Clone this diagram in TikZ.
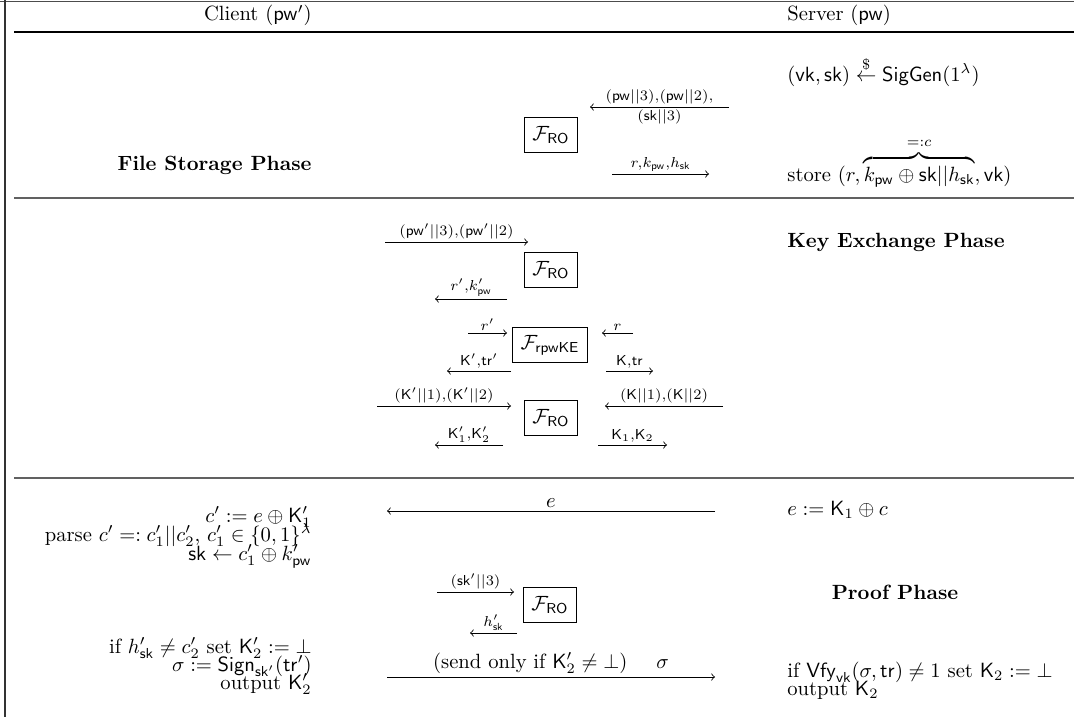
\documentclass[tikz,border=0pt]{standalone}
\usepackage{amsmath,amssymb}
\begin{document}
\begin{tikzpicture}[x=0.4854pt,y=-0.4854pt,
  box/.style={draw,line width=0.45pt,inner xsep=4pt,minimum height=16.8pt},
  msg/.style={-to,line width=0.4pt},
  lab/.style={inner sep=1pt,execute at begin node=$\scriptstyle,execute at end node=$},
  lbl/.style={inner sep=0pt},
  phase/.style={font=\bfseries},
  sep/.style={line width=0.6pt,black!62}]
\useasboundingbox (0,0) rectangle (1074,717);
% frame and rules
\draw[line width=0.4pt,black!70] (0,1) -- (1074,1);
\draw[line width=0.6pt,black!80] (5,0) -- (5,717);
\draw[line width=0.8pt] (14,32) -- (1074,32);
\draw[sep] (14,198) -- (1074,198);
\draw[sep] (14,478) -- (1074,478);
% header
\node[anchor=base east,lbl] (client) at (312,21) {Client ($\mathsf{pw}'$)};
\node[anchor=base west,lbl] (server) at (787,21) {Server ($\mathsf{pw}$)};
% ---------- File storage phase
\node[phase,anchor=east,lbl] (fsp) at (312,165) {File Storage Phase};
\node[anchor=base west,lbl] (siggen) at (787,81) {$(\mathsf{vk},\mathsf{sk}) \stackrel{\$}{\leftarrow} \mathsf{SigGen}(1^\lambda)$};
\node[anchor=base west,lbl] (store) at (787,181) {store $(r, \overbrace{k_{\mathsf{pw}} \oplus \mathsf{sk}||h_{\mathsf{sk}}}^{=:c}, \mathsf{vk})$};
\node[box] (ro1) at (551,135) {$\mathcal{F}_{\mathsf{RO}}$};
\coordinate (a1s) at (729,107); \coordinate (a1e) at (590,107);
\coordinate (a2s) at (612,174); \coordinate (a2e) at (709,174);
\draw[msg] (a1s) -- node[lab,above]{(\mathsf{pw}||3),(\mathsf{pw}||2),} node[lab,below]{(\mathsf{sk}||3)} (a1e);
\draw[msg] (a2s) -- node[lab,above]{r,k_{\mathsf{pw}},h_{\mathsf{sk}}} (a2e);
% ---------- Key exchange phase
\node[phase,anchor=west,lbl] (kep) at (787,242) {Key Exchange Phase};
\node[box] (ro2) at (551,270) {$\mathcal{F}_{\mathsf{RO}}$};
\node[box] (ke) at (550,345) {$\mathcal{F}_{\mathsf{rpwKE}}$};
\node[box] (ro3) at (551,418) {$\mathcal{F}_{\mathsf{RO}}$};
\coordinate (b1s) at (385,242); \coordinate (b1e) at (528,242);
\coordinate (b2s) at (507,299); \coordinate (b2e) at (435,299);
\coordinate (b3s) at (468,333); \coordinate (b3e) at (507,333);
\coordinate (b4s) at (633,333); \coordinate (b4e) at (602,333);
\coordinate (b5s) at (511,371); \coordinate (b5e) at (447,371);
\coordinate (b6s) at (606,371); \coordinate (b6e) at (653,371);
\coordinate (b7s) at (377,406); \coordinate (b7e) at (511,406);
\coordinate (b8s) at (723,406); \coordinate (b8e) at (605,406);
\coordinate (b9s) at (503,445); \coordinate (b9e) at (435,445);
\coordinate (b10s) at (598,445); \coordinate (b10e) at (667,445);
\draw[msg] (b1s) -- node[lab,above]{(\mathsf{pw}'||3),(\mathsf{pw}'||2)} (b1e);
\draw[msg] (b2s) -- node[lab,above]{r',k'_{\mathsf{pw}}} (b2e);
\draw[msg] (b3s) -- node[lab,above]{r'} (b3e);
\draw[msg] (b4s) -- node[lab,above]{r} (b4e);
\draw[msg] (b5s) -- node[lab,above]{\mathsf{K}',\mathsf{tr}'} (b5e);
\draw[msg] (b6s) -- node[lab,above]{\mathsf{K},\mathsf{tr}} (b6e);
\draw[msg] (b7s) -- node[lab,above]{(\mathsf{K}'||1),(\mathsf{K}'||2)} (b7e);
\draw[msg] (b8s) -- node[lab,above]{(\mathsf{K}||1),(\mathsf{K}||2)} (b8e);
\draw[msg] (b9s) -- node[lab,above]{\mathsf{K}'_1,\mathsf{K}'_2} (b9e);
\draw[msg] (b10s) -- node[lab,above]{\mathsf{K}_1,\mathsf{K}_2} (b10e);
% ---------- Proof phase
\node[anchor=base east,lbl] (c1) at (312,522) {$c' := e \oplus \mathsf{K}'_1$};
\node[anchor=base east,lbl] (c2) at (312,541) {parse $c' =: c'_1||c'_2$,\ $c'_1 \in \{0,1\}^\lambda$};
\node[anchor=base east,lbl] (c3) at (312,560) {$\mathsf{sk} \leftarrow c'_1 \oplus k'_{\mathsf{pw}}$};
\node[anchor=base east,lbl] (c4) at (312,653) {if $h'_{\mathsf{sk}} \neq c'_2$ set $\mathsf{K}'_2 := \bot$};
\node[anchor=base east,lbl] (c5) at (312,671) {$\sigma := \mathsf{Sign}_{\mathsf{sk}'}(\mathsf{tr}')$};
\node[anchor=base east,lbl] (c6) at (312,689) {output $\mathsf{K}'_2$};
\node[anchor=base west,lbl] (s1) at (787,515) {$e := \mathsf{K}_1 \oplus c$};
\node[phase] (pp) at (895,592) {Proof Phase};
\node[anchor=base west,lbl] (s2) at (787,677) {if $\mathsf{Vfy}_{\mathsf{vk}}(\sigma,\mathsf{tr}) \neq 1$ set $\mathsf{K}_2 := \bot$};
\node[anchor=base west,lbl] (s3) at (787,695) {output $\mathsf{K}_2$};
\node[box] (ro4) at (550,605) {$\mathcal{F}_{\mathsf{RO}}$};
\coordinate (d1s) at (715,511); \coordinate (d1e) at (387,511);
\coordinate (d2s) at (437,592); \coordinate (d2e) at (514,592);
\coordinate (d3s) at (517,633); \coordinate (d3e) at (470,633);
\coordinate (d4s) at (387,677); \coordinate (d4e) at (715,677);
\draw[msg] (d1s) -- node[above,inner sep=1.5pt]{$e$} (d1e);
\draw[msg] (d2s) -- node[lab,above]{(\mathsf{sk}'||3)} (d2e);
\draw[msg] (d3s) -- node[lab,above]{h'_{\mathsf{sk}}} (d3e);
\draw[msg] (d4s) -- node[above,inner sep=1.5pt]{(send only if $\mathsf{K}'_2 \neq \bot$)\hspace{1.4em}$\sigma$} (d4e);
\end{tikzpicture}
\end{document}
